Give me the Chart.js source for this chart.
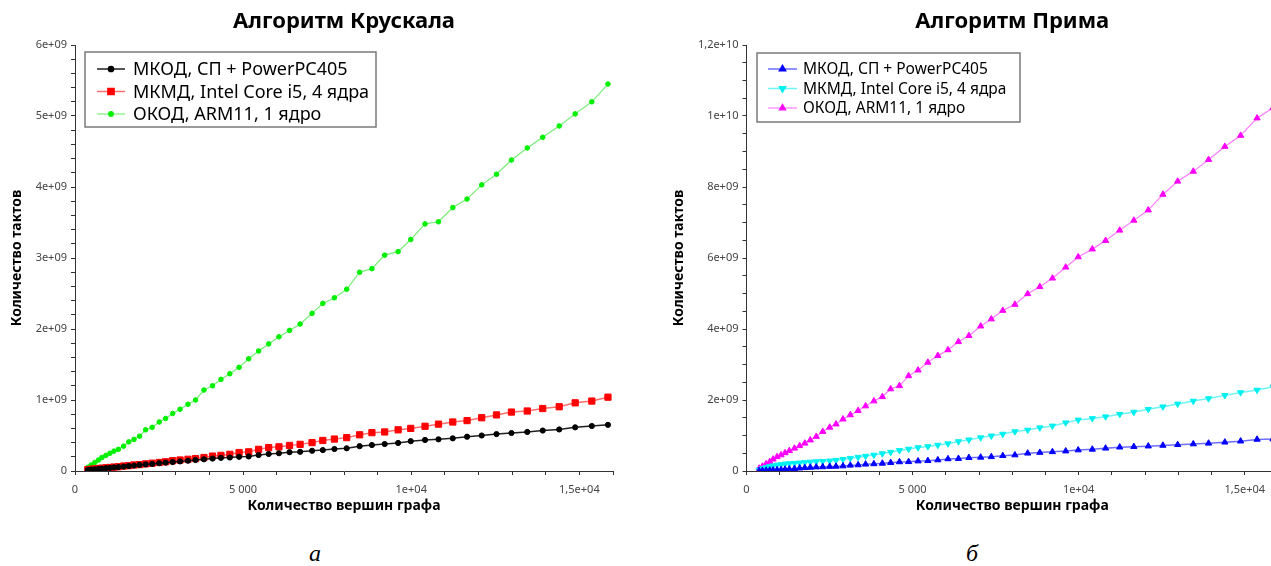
<!DOCTYPE html>
<html>
<head>
<meta charset="utf-8">
<script src="https://cdn.jsdelivr.net/npm/chart.js@4.4.1/dist/chart.umd.min.js"></script>
<style>
  html, body { margin: 0; padding: 0; background: #fff; overflow: hidden; }
  body { width: 1271px; height: 566px; position: relative; }
  canvas { position: absolute; top: 0; }
  #kruskal { left: 0; }
  #prim { left: 640px; }
  .cap { position: absolute; top: 540px; font: italic 24px "Liberation Serif", serif; color: #000; }
</style>
</head>
<body>
<canvas id="kruskal" width="640" height="540"></canvas>
<canvas id="prim" width="660" height="540"></canvas>
<div class="cap" style="left:309px">а</div>
<div class="cap" style="left:966px">б</div>
<script>
// Количество вершин графа (общие для всех серий)
const vertexCounts = [380, 480, 590, 700, 800, 920, 1040, 1160, 1290, 1445,
  1600, 1755, 1920, 2100, 2295, 2505, 2695, 2905, 3125, 3360,
  3585, 3835, 4090, 4340, 4605, 4880, 5165, 5460, 5760, 6065,
  6380, 6695, 7050, 7370, 7715, 8080, 8465, 8830, 9210, 9610,
  9985, 10410, 10810, 11235, 11660, 12095, 12535, 12980, 13450, 13910,
  14400, 14875, 15370, 15850];

// Алгоритм Крускала, такты (в миллиардах)
const kruskalPowerPC = [0.015, 0.02, 0.025, 0.03, 0.035, 0.04, 0.045, 0.05, 0.055, 0.062,
  0.07, 0.077, 0.085, 0.093, 0.1, 0.11, 0.118, 0.126, 0.135, 0.145,
  0.155, 0.165, 0.175, 0.185, 0.19, 0.2, 0.205, 0.225, 0.24, 0.25,
  0.265, 0.27, 0.285, 0.295, 0.31, 0.32, 0.35, 0.366, 0.38, 0.395,
  0.42, 0.437, 0.446, 0.46, 0.483, 0.5, 0.52, 0.535, 0.55, 0.57,
  0.585, 0.615, 0.634, 0.65];
const kruskalCoreI5 = [0.02, 0.025, 0.03, 0.035, 0.04, 0.045, 0.05, 0.055, 0.06, 0.07,
  0.075, 0.085, 0.09, 0.1, 0.11, 0.12, 0.13, 0.145, 0.155, 0.165,
  0.175, 0.19, 0.21, 0.22, 0.235, 0.26, 0.27, 0.305, 0.33, 0.34,
  0.36, 0.375, 0.4, 0.43, 0.45, 0.47, 0.51, 0.54, 0.55, 0.58,
  0.6, 0.63, 0.66, 0.69, 0.71, 0.75, 0.79, 0.83, 0.845, 0.88,
  0.905, 0.96, 0.985, 1.04];
const kruskalArm = [0.052, 0.085, 0.12, 0.155, 0.19, 0.22, 0.25, 0.28, 0.305, 0.35,
  0.41, 0.445, 0.49, 0.58, 0.615, 0.69, 0.74, 0.81, 0.87, 0.94,
  1.0, 1.14, 1.2, 1.29, 1.37, 1.46, 1.58, 1.69, 1.79, 1.89,
  1.98, 2.07, 2.22, 2.36, 2.44, 2.56, 2.8, 2.85, 3.04, 3.09,
  3.26, 3.48, 3.51, 3.71, 3.83, 4.03, 4.18, 4.38, 4.55, 4.7,
  4.86, 5.03, 5.2, 5.45];

// Алгоритм Прима, такты (в миллиардах)
const primPowerPC = [0.005, 0.01, 0.015, 0.02, 0.025, 0.03, 0.035, 0.045, 0.055, 0.065,
  0.08, 0.09, 0.1, 0.11, 0.115, 0.125, 0.13, 0.14, 0.16, 0.17,
  0.19, 0.2, 0.215, 0.235, 0.255, 0.26, 0.28, 0.29, 0.31, 0.34,
  0.35, 0.375, 0.385, 0.4, 0.43, 0.45, 0.5, 0.52, 0.54, 0.56,
  0.59, 0.61, 0.64, 0.67, 0.685, 0.7, 0.72, 0.74, 0.76, 0.78,
  0.81, 0.84, 0.89, 0.9];
const primCoreI5 = [0.03, 0.07, 0.1, 0.13, 0.15, 0.17, 0.185, 0.2, 0.21, 0.22,
  0.23, 0.24, 0.255, 0.265, 0.275, 0.285, 0.305, 0.33, 0.36, 0.39,
  0.42, 0.45, 0.49, 0.53, 0.58, 0.62, 0.66, 0.69, 0.73, 0.77,
  0.83, 0.88, 0.94, 0.99, 1.04, 1.11, 1.155, 1.22, 1.27, 1.36,
  1.44, 1.48, 1.53, 1.6, 1.66, 1.74, 1.81, 1.89, 1.97, 2.04,
  2.13, 2.21, 2.28, 2.37];
const primArm = [0.075, 0.13, 0.2, 0.26, 0.33, 0.4, 0.45, 0.51, 0.57, 0.64,
  0.71, 0.78, 0.87, 0.97, 1.11, 1.23, 1.32, 1.46, 1.58, 1.7,
  1.83, 1.97, 2.09, 2.31, 2.4, 2.68, 2.84, 3.06, 3.25, 3.41,
  3.64, 3.81, 4.08, 4.28, 4.52, 4.69, 4.99, 5.19, 5.43, 5.74,
  6.03, 6.25, 6.49, 6.78, 7.06, 7.35, 7.79, 8.16, 8.44, 8.77,
  9.14, 9.45, 9.94, 10.23];

const seriesLabels = ['МКОД, СП + PowerPC405', 'МКМД, Intel Core i5, 4 ядра', 'ОКОД, ARM11, 1 ядро'];

// подписи делений
const xTickValues = [0, 5000, 10000, 15000];
const xTickText = ['0', '5 000', '1e+04', '1,5e+04'];
const kruskalYTickValues = [0, 1, 2, 3, 4, 5, 6];
const kruskalYTickText = ['0', '1e+09', '2e+09', '3e+09', '4e+09', '5e+09', '6e+09'];
const primYTickValues = [0, 2, 4, 6, 8, 10, 12];
const primYTickText = ['0', '2e+09', '4e+09', '6e+09', '8e+09', '1e+10', '1,2e+10'];

const FONT = '"Noto Sans", "DejaVu Sans", sans-serif';

function pickLabel(values, texts) {
  return (v) => {
    const i = values.findIndex(t => Math.abs(t - v) < 1e-6);
    return i >= 0 ? texts[i] : '';
  };
}

function toPoints(ys) {
  return vertexCounts.map((x, i) => ({ x: x, y: ys[i] }));
}

// заголовок по центру области графика
const centerTitle = {
  id: 'centerTitle',
  afterDraw(chart, args, opts) {
    const ctx = chart.ctx;
    const a = chart.chartArea;
    ctx.save();
    ctx.font = 'bold 22px ' + FONT;
    ctx.fillStyle = '#000';
    ctx.textAlign = 'center';
    ctx.textBaseline = 'middle';
    ctx.fillText(opts.text, (a.left + a.right) / 2, opts.y);
    ctx.restore();
  }
};

// легенда в рамке внутри графика
const boxLegend = {
  id: 'boxLegend',
  afterDraw(chart, args, o) {
    const ctx = chart.ctx;
    ctx.save();
    ctx.fillStyle = '#fff';
    ctx.fillRect(o.x, o.y, o.w, o.h);
    ctx.strokeStyle = '#7a7a7a';
    ctx.lineWidth = 1.5;
    ctx.strokeRect(o.x, o.y, o.w, o.h);
    ctx.font = o.fontSize + 'px ' + FONT;
    ctx.textBaseline = 'middle';
    ctx.textAlign = 'left';
    chart.data.datasets.forEach((ds, i) => {
      const y = o.y + o.first + i * o.row;
      ctx.strokeStyle = ds.borderColor;
      ctx.lineWidth = ds.borderWidth;
      ctx.beginPath();
      ctx.moveTo(o.x + o.s1, y);
      ctx.lineTo(o.x + o.s2, y);
      ctx.stroke();
      ctx.fillStyle = ds.pointBackgroundColor;
      ctx.strokeStyle = ds.pointBorderColor;
      Chart.helpers.drawPoint(ctx, {
        pointStyle: ds.pointStyle,
        radius: ds.pointRadius,
        rotation: ds.pointRotation || 0,
        borderWidth: ds.pointBorderWidth
      }, o.x + (o.s1 + o.s2) / 2, y);
      ctx.fillStyle = '#000';
      ctx.fillText(ds.label, o.x + o.tx, y + 1);
    });
    ctx.restore();
  }
};

function axes(yMax, yStep, yVals, yTexts, yAxisWidth, yTitlePad) {
  const tickFont = { family: FONT, size: 11 };
  const titleFont = { family: FONT, size: 14, weight: 'bold' };
  const grid = { display: true, drawOnChartArea: false, drawTicks: true, tickLength: 4, tickColor: '#333' };
  const border = { display: true, color: '#333', width: 1 };
  return {
    x: {
      type: 'linear', min: 0, max: 16000,
      grid: grid, border: border,
      ticks: { stepSize: 1000, autoSkip: false, maxRotation: 0, padding: 8, color: '#444', font: tickFont,
        callback: pickLabel(xTickValues, xTickText) },
      title: { display: true, text: 'Количество вершин графа', color: '#000', font: titleFont,
        padding: { top: 0, bottom: 26 } },
      afterFit: (s) => { s.height = 69; }
    },
    y: {
      type: 'linear', min: 0, max: yMax,
      grid: grid, border: border,
      ticks: { stepSize: yStep, autoSkip: false, padding: 4, color: '#444', font: tickFont,
        callback: pickLabel(yVals, yTexts) },
      title: { display: true, text: 'Количество тактов', color: '#000', font: titleFont,
        padding: { top: yTitlePad, bottom: 0 } },
      afterFit: (s) => { s.width = yAxisWidth; }
    }
  };
}

function dataset(label, ys, line, mark, style, radius, width, rotation) {
  return {
    label: label,
    data: toPoints(ys),
    borderColor: line,
    borderWidth: width,
    pointStyle: style,
    pointRadius: radius,
    pointRotation: rotation || 0,
    pointBackgroundColor: mark,
    pointBorderColor: mark,
    pointBorderWidth: 1,
    tension: 0,
    fill: false
  };
}

new Chart(document.getElementById('kruskal'), {
  type: 'line',
  data: {
    datasets: [
      dataset(seriesLabels[0], kruskalPowerPC, '#202020', '#000000', 'circle', 2.6, 1.5),
      dataset(seriesLabels[1], kruskalCoreI5, 'rgba(255,60,60,0.75)', '#ff0000', 'rect', 4.4, 1.5),
      dataset(seriesLabels[2], kruskalArm, 'rgba(60,230,60,0.7)', '#00f000', 'circle', 2.3, 1.2)
    ]
  },
  options: {
    responsive: false,
    animation: false,
    devicePixelRatio: 1,
    layout: { padding: { top: 45, right: 27, left: 0, bottom: 0 } },
    scales: axes(6, 0.2, kruskalYTickValues, kruskalYTickText, 75, 9),
    plugins: {
      legend: { display: false },
      tooltip: { enabled: false },
      centerTitle: { text: 'Алгоритм Крускала', y: 22 },
      boxLegend: { x: 85, y: 52, w: 291, h: 75, first: 17, row: 22.5, s1: 12, s2: 40, tx: 48, fontSize: 18 }
    }
  },
  plugins: [centerTitle, boxLegend]
});

new Chart(document.getElementById('prim'), {
  type: 'line',
  data: {
    datasets: [
      dataset(seriesLabels[0], primPowerPC, 'rgba(60,60,255,0.75)', '#0000ff', 'triangle', 3.6, 1.5),
      dataset(seriesLabels[1], primCoreI5, 'rgba(60,240,240,0.75)', '#00f0f0', 'triangle', 3.6, 1.5, 180),
      dataset(seriesLabels[2], primArm, 'rgba(255,70,255,0.7)', '#ff00ff', 'triangle', 3.6, 1.2)
    ]
  },
  options: {
    responsive: false,
    animation: false,
    devicePixelRatio: 1,
    layout: { padding: { top: 45, right: 22, left: 0, bottom: 0 } },
    scales: axes(12, 0.5, primYTickValues, primYTickText, 106.5, 31),
    plugins: {
      legend: { display: false },
      tooltip: { enabled: false },
      centerTitle: { text: 'Алгоритм Прима', y: 22 },
      boxLegend: { x: 117, y: 53, w: 263, h: 69, first: 16, row: 19.5, s1: 11, s2: 40, tx: 46, fontSize: 15.5 }
    }
  },
  plugins: [centerTitle, boxLegend]
});
</script>
</body>
</html>
